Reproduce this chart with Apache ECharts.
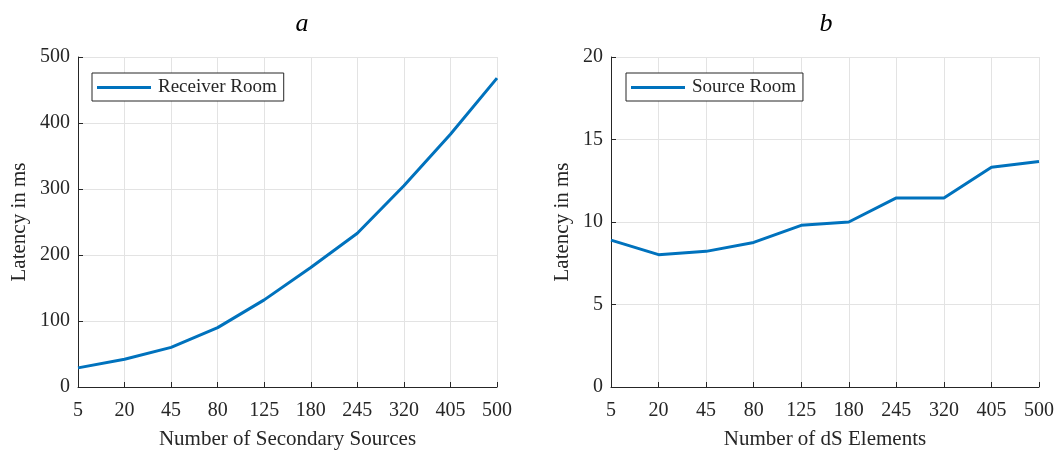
<!DOCTYPE html>
<html>
<head>
<meta charset="utf-8">
<script src="https://cdn.jsdelivr.net/npm/echarts@6/dist/echarts.min.js"></script>
<style>
  html, body { margin: 0; padding: 0; background: #fff; }
  #chart { width: 1060px; height: 455px; }
</style>
</head>
<body>
<div id="chart"></div>
<script>
// Shared x categories for both panels
const categories = ['5', '20', '45', '80', '125', '180', '245', '320', '405', '500'];

// Panel a: receiver-room latency (ms) vs. number of secondary sources
const receiverRoom = [29, 42, 60, 90, 132, 181, 233, 305, 383, 468];

// Panel b: source-room latency (ms) vs. number of dS elements
const sourceRoom = [8.9, 8.02, 8.22, 8.76, 9.8, 10.0, 11.46, 11.46, 13.32, 13.66];

const panelTitles = ['a', 'b'];
const xNames = ['Number of Secondary Sources', 'Number of dS Elements'];
const yName = 'Latency in ms';

const FONT = '"Liberation Serif", "Times New Roman", serif';
const INK = '#262626';
const GRIDC = '#e3e3e3';
const BLUE = '#0072BD';

const chart = echarts.init(document.getElementById('chart'), null, { renderer: 'canvas' });

function xAxis(idx) {
  return {
    type: 'category', gridIndex: idx, data: categories, boundaryGap: false,
    name: xNames[idx], nameLocation: 'middle', nameGap: 42,
    nameTextStyle: { fontFamily: FONT, fontSize: 21, color: INK },
    axisLine: { lineStyle: { color: INK, width: 1 } },
    axisTick: { inside: true, length: 5, alignWithLabel: true, lineStyle: { color: INK } },
    axisLabel: { fontFamily: FONT, fontSize: 20, color: INK, margin: 14, interval: 0 },
    splitLine: { show: true, lineStyle: { color: GRIDC, width: 1 } }
  };
}

function yAxis(idx, max, interval, gap) {
  return {
    type: 'value', gridIndex: idx, min: 0, max: max, interval: interval,
    name: yName, nameLocation: 'middle', nameGap: gap, nameRotate: 90,
    nameTextStyle: { fontFamily: FONT, fontSize: 21, color: INK },
    axisLine: { show: true, lineStyle: { color: INK, width: 1 } },
    axisTick: { show: true, inside: true, length: 5, lineStyle: { color: INK } },
    axisLabel: { fontFamily: FONT, fontSize: 20, color: INK, margin: 8, padding: [4, 0, 0, 0] },
    splitLine: { show: true, lineStyle: { color: GRIDC, width: 1 } }
  };
}

function legend(name, left) {
  return {
    data: [name], left: left, top: 73, orient: 'horizontal',
    padding: [5, 7, 4, 5],
    borderColor: INK, borderWidth: 1, backgroundColor: '#fff',
    itemWidth: 54, itemHeight: 3, itemGap: 0, icon: 'rect',
    textStyle: { fontFamily: FONT, fontSize: 19, color: INK, padding: [2, 0, 0, 2] },
    selectedMode: false
  };
}

chart.setOption({
  animation: false,
  backgroundColor: '#fff',
  title: [
    { text: panelTitles[0], left: 297, top: 6, textAlign: 'center',
      textStyle: { fontFamily: FONT, fontStyle: 'italic', fontWeight: 'normal', fontSize: 26, color: '#000' } },
    { text: panelTitles[1], left: 821, top: 6, textAlign: 'center',
      textStyle: { fontFamily: FONT, fontStyle: 'italic', fontWeight: 'normal', fontSize: 26, color: '#000' } }
  ],
  grid: [
    { left: 78, top: 57, width: 419, height: 333 },
    { left: 611, top: 57, width: 428, height: 334 }
  ],
  legend: [
    legend('Receiver Room', 92),
    legend('Source Room', 626)
  ],
  xAxis: [xAxis(0), xAxis(1)],
  yAxis: [yAxis(0, 500, 100, 48), yAxis(1, 20, 5, 38)],
  series: [
    { name: 'Receiver Room', type: 'line', xAxisIndex: 0, yAxisIndex: 0, data: receiverRoom,
      symbol: 'none', smooth: false, lineStyle: { color: BLUE, width: 3 }, itemStyle: { color: BLUE } },
    { name: 'Source Room', type: 'line', xAxisIndex: 1, yAxisIndex: 1, data: sourceRoom,
      symbol: 'none', smooth: false, lineStyle: { color: BLUE, width: 3 }, itemStyle: { color: BLUE } }
  ]
});
</script>
</body>
</html>
